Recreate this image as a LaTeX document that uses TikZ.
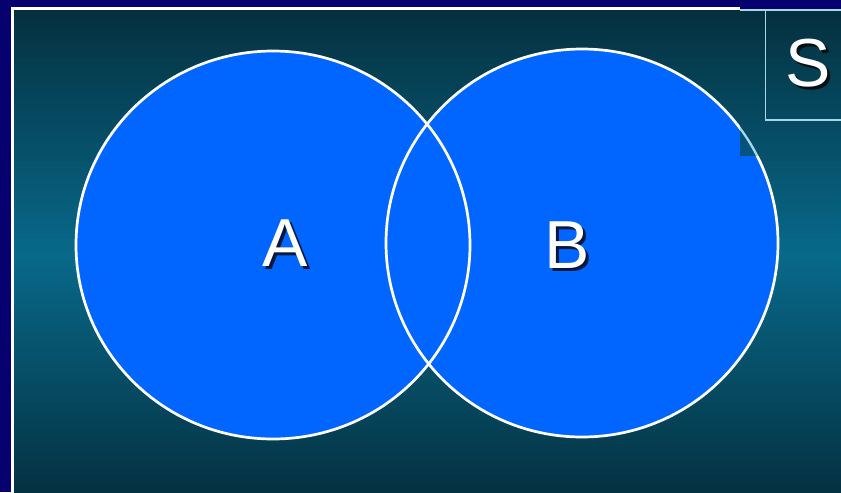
\documentclass[tikz,border=0pt]{standalone}
\usepackage{fontspec}
\setsansfont{Liberation Sans}
\usetikzlibrary{positioning}
\definecolor{frameNavy}{HTML}{07006F}
\definecolor{bgDark}{HTML}{04303F}
\definecolor{bgMid}{HTML}{08698A}
\definecolor{setBlue}{HTML}{0066FF}
\definecolor{boxEdge}{HTML}{A8D8E8}
\tikzset{
    setfill/.style={fill=setBlue},
    setedge/.style={draw=white, line width=2.3pt},
    set label/.style={font=\sffamily\fontsize{58}{58}\selectfont, text=white, inner sep=0pt},
    set shadow/.style={font=\sffamily\fontsize{58}{58}\selectfont, text=black, opacity=0.75, inner sep=0pt},
    common settings/.style={x=0.03cm, y=-0.03cm}
}
\newcommand{\slidebackground}{%
    \foreach \i in {0,...,79} {
        \pgfmathsetmacro{\ytop}{10 + \i*6.025}
        \pgfmathsetmacro{\pct}{100*(1 - abs(\ytop + 3 - 255)/245)}
        \fill[bgMid!\pct!bgDark] (14,\ytop) rectangle (841,\ytop+6.6);
    }%
}
\begin{document}
\begin{tikzpicture}[common settings]

    % Configuration (pixels of the slide)
    \def\ax{273}  \def\ay{245}  % centre of A
    \def\bx{582}  \def\by{243}  % centre of B
    \def\rx{197}  \def\ry{194}  % radii

    % 1. Slide frame and background
    \fill[frameNavy] (0,0) rectangle (841,492);
    \useasboundingbox (0,0) rectangle (841,492);
    \slidebackground
    \draw[white, line width=2.6pt] (12.5,492) -- (12.5,8.5) -- (740,8.5);

    % 2. The two sets
    \fill[setfill] (\ax,\ay) ellipse [x radius=\rx, y radius=\ry];
    \fill[setfill] (\bx,\by) ellipse [x radius=\rx-1, y radius=\ry];
    \draw[setedge] (\ax,\ay) ellipse [x radius=\rx, y radius=\ry];
    \draw[setedge] (\bx,\by) ellipse [x radius=\rx-1, y radius=\ry];

    % 3. Pasted corner patch over B
    \begin{scope}
        \clip (740,10) rectangle (841,155);
        \slidebackground
        \fill[setBlue, opacity=0.15] (\bx,\by) ellipse [x radius=\rx-1, y radius=\ry];
        \draw[boxEdge, line width=2pt] (\bx,\by) ellipse [x radius=\rx-1, y radius=\ry];
    \end{scope}

    % 4. Universe box
    \draw[boxEdge, line width=1.6pt] (740,10) -- (845,10);
    \draw[boxEdge, line width=1.6pt] (765.5,10) -- (765.5,120) -- (845,120);

    % 5. Labels
    \node[set shadow] (A shadow) at (288,246) {A};
    \node[set label] (A) at (285,243) {A};
    \node[set shadow] (B shadow) at (570,248) {B};
    \node[set label] (B) at (567,245) {B};
    \node[set shadow] (S shadow) at (811,66) {S};
    \node[set label] (S) at (808,63) {S};

\end{tikzpicture}
\end{document}
